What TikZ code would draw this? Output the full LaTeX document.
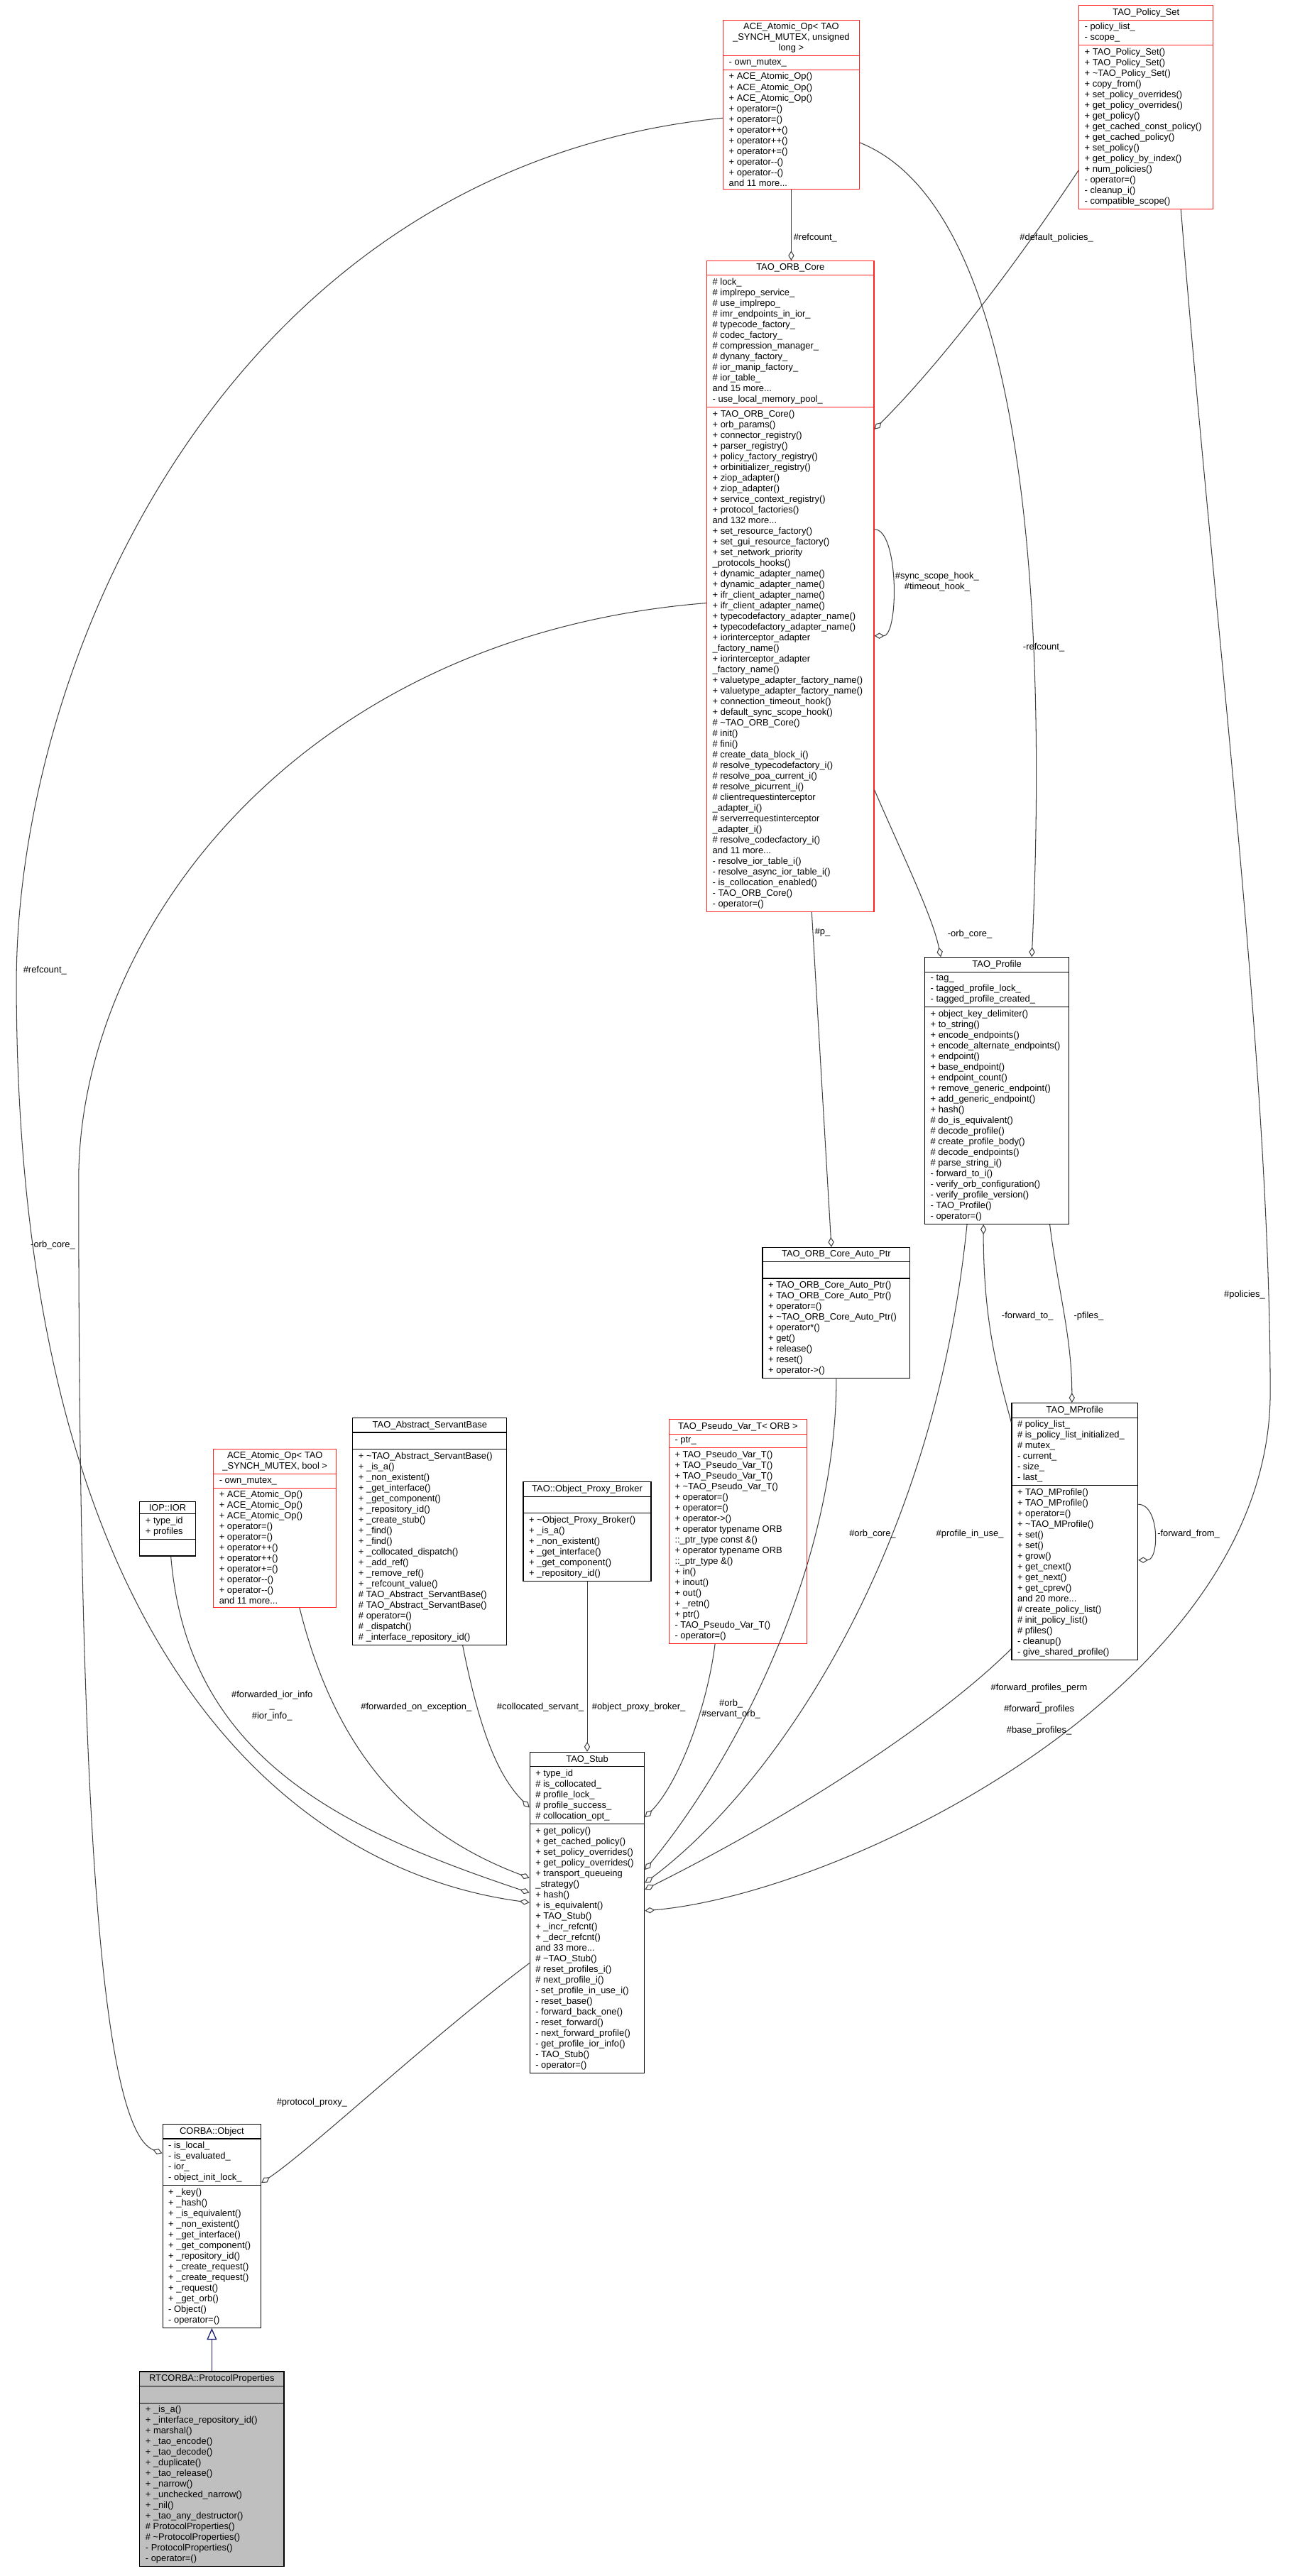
\documentclass[tikz,border=0pt]{standalone}
\usepackage{fontspec}
\setmainfont{Liberation Sans}
\usetikzlibrary{shapes.multipart,arrows.meta}
\newcommand{\umlfont}{\fontsize{5.6}{6.5}\selectfont\spaceskip=1.55pt\relax}
\newcommand{\umlempty}{\rule{0pt}{6.5pt}}
\definecolor{edgec}{HTML}{404040}
\definecolor{boxred}{HTML}{FF2020}
\definecolor{inhc}{HTML}{191970}
\definecolor{rtgray}{HTML}{BFBFBF}
\tikzset{
 umlnode/.style={rectangle split,rectangle split parts=3,draw,line width=0.5pt,
   inner xsep=3.5pt,inner ysep=1.6pt,fill=white},
 redbox/.style={draw=boxred},
 blackbox/.style={draw=black},
 graybox/.style={draw=black,fill=rtgray},
 lbl/.style={font=\umlfont,inner sep=0pt,align=left},
 lblc/.style={font=\umlfont,inner sep=0pt,align=center},
 agg/.style={draw=edgec,line width=0.45pt,-{Diamond[open,length=6pt,width=3.6pt]}},
 aggs/.style={draw=edgec,line width=0.45pt,{Diamond[open,length=6pt,width=3.6pt]}-},
 inh/.style={draw=inhc,line width=0.55pt,-{Triangle[open,length=7pt,width=6pt]}}
}
\newcommand{\umlbox}[8]{%
 \pgfmathsetmacro\umltw{#4-7}%
 \node[umlnode,#5,text width=\umltw pt,anchor=north west] (#1) at (#2pt,-#3pt)
 {\umlfont\centering #6\par\nodepart{two}\umlfont\raggedright #7\par\nodepart{three}\umlfont\raggedright #8\par};}
\begin{document}
\begin{tikzpicture}
\fill[white] (0,0) rectangle (790pt,-1572pt);
\useasboundingbox (0,0) rectangle (790pt,-1572pt);

\umlbox{aceul}{441}{12}{83}{redbox}{ACE\_Atomic\_Op< TAO\\\_SYNCH\_MUTEX, unsigned\\long >}{- own\_mutex\_}{+ ACE\_Atomic\_Op()\\+ ACE\_Atomic\_Op()\\+ ACE\_Atomic\_Op()\\+ operator=()\\+ operator=()\\+ operator++()\\+ operator++()\\+ operator+=()\\+ operator-{}-()\\+ operator-{}-()\\and 11 more...}

\umlbox{policyset}{658}{3}{82}{redbox}{TAO\_Policy\_Set}{- policy\_list\_\\- scope\_}{+ TAO\_Policy\_Set()\\+ TAO\_Policy\_Set()\\+ \textasciitilde TAO\_Policy\_Set()\\+ copy\_from()\\+ set\_policy\_overrides()\\+ get\_policy\_overrides()\\+ get\_policy()\\+ get\_cached\_const\_policy()\\+ get\_cached\_policy()\\+ set\_policy()\\+ get\_policy\_by\_index()\\+ num\_policies()\\- operator=()\\- cleanup\_i()\\- compatible\_scope()}

\umlbox{orbcore}{431}{159}{102}{redbox}{TAO\_ORB\_Core}{\# lock\_\\\# implrepo\_service\_\\\# use\_implrepo\_\\\# imr\_endpoints\_in\_ior\_\\\# typecode\_factory\_\\\# codec\_factory\_\\\# compression\_manager\_\\\# dynany\_factory\_\\\# ior\_manip\_factory\_\\\# ior\_table\_\\and 15 more...\\- use\_local\_memory\_pool\_}{+ TAO\_ORB\_Core()\\+ orb\_params()\\+ connector\_registry()\\+ parser\_registry()\\+ policy\_factory\_registry()\\+ orbinitializer\_registry()\\+ ziop\_adapter()\\+ ziop\_adapter()\\+ service\_context\_registry()\\+ protocol\_factories()\\and 132 more...\\+ set\_resource\_factory()\\+ set\_gui\_resource\_factory()\\+ set\_network\_priority\\\_protocols\_hooks()\\+ dynamic\_adapter\_name()\\+ dynamic\_adapter\_name()\\+ ifr\_client\_adapter\_name()\\+ ifr\_client\_adapter\_name()\\+ typecodefactory\_adapter\_name()\\+ typecodefactory\_adapter\_name()\\+ iorinterceptor\_adapter\\\_factory\_name()\\+ iorinterceptor\_adapter\\\_factory\_name()\\+ valuetype\_adapter\_factory\_name()\\+ valuetype\_adapter\_factory\_name()\\+ connection\_timeout\_hook()\\+ default\_sync\_scope\_hook()\\\# \textasciitilde TAO\_ORB\_Core()\\\# init()\\\# fini()\\\# create\_data\_block\_i()\\\# resolve\_typecodefactory\_i()\\\# resolve\_poa\_current\_i()\\\# resolve\_picurrent\_i()\\\# clientrequestinterceptor\\\_adapter\_i()\\\# serverrequestinterceptor\\\_adapter\_i()\\\# resolve\_codecfactory\_i()\\and 11 more...\\- resolve\_ior\_table\_i()\\- resolve\_async\_ior\_table\_i()\\- is\_collocation\_enabled()\\- TAO\_ORB\_Core()\\- operator=()}

\umlbox{profile}{564}{584}{88}{blackbox}{TAO\_Profile}{- tag\_\\- tagged\_profile\_lock\_\\- tagged\_profile\_created\_}{+ object\_key\_delimiter()\\+ to\_string()\\+ encode\_endpoints()\\+ encode\_alternate\_endpoints()\\+ endpoint()\\+ base\_endpoint()\\+ endpoint\_count()\\+ remove\_generic\_endpoint()\\+ add\_generic\_endpoint()\\+ hash()\\\# do\_is\_equivalent()\\\# decode\_profile()\\\# create\_profile\_body()\\\# decode\_endpoints()\\\# parse\_string\_i()\\- forward\_to\_i()\\- verify\_orb\_configuration()\\- verify\_profile\_version()\\- TAO\_Profile()\\- operator=()}

\umlbox{autoptr}{465}{761}{90}{blackbox}{TAO\_ORB\_Core\_Auto\_Ptr}{\umlempty}{+ TAO\_ORB\_Core\_Auto\_Ptr()\\+ TAO\_ORB\_Core\_Auto\_Ptr()\\+ operator=()\\+ \textasciitilde TAO\_ORB\_Core\_Auto\_Ptr()\\+ operator*()\\+ get()\\+ release()\\+ reset()\\+ operator->()}

\umlbox{mprofile}{617}{856}{77}{blackbox}{TAO\_MProfile}{\# policy\_list\_\\\# is\_policy\_list\_initialized\_\\\# mutex\_\\- current\_\\- size\_\\- last\_}{+ TAO\_MProfile()\\+ TAO\_MProfile()\\+ operator=()\\+ \textasciitilde TAO\_MProfile()\\+ set()\\+ set()\\+ grow()\\+ get\_cnext()\\+ get\_next()\\+ get\_cprev()\\and 20 more...\\\# create\_policy\_list()\\\# init\_policy\_list()\\\# pfiles()\\- cleanup()\\- give\_shared\_profile()}

\umlbox{pseudovar}{408}{866}{84}{redbox}{TAO\_Pseudo\_Var\_T< ORB >}{- ptr\_}{+ TAO\_Pseudo\_Var\_T()\\+ TAO\_Pseudo\_Var\_T()\\+ TAO\_Pseudo\_Var\_T()\\+ \textasciitilde TAO\_Pseudo\_Var\_T()\\+ operator=()\\+ operator=()\\+ operator->()\\+ operator typename ORB\\::\_ptr\_type const \&()\\+ operator typename ORB\\::\_ptr\_type \&()\\+ in()\\+ inout()\\+ out()\\+ \_retn()\\+ ptr()\\- TAO\_Pseudo\_Var\_T()\\- operator=()}

\umlbox{proxy}{319}{904}{78}{blackbox}{TAO::Object\_Proxy\_Broker}{\umlempty}{+ \textasciitilde Object\_Proxy\_Broker()\\+ \_is\_a()\\+ \_non\_existent()\\+ \_get\_interface()\\+ \_get\_component()\\+ \_repository\_id()}

\umlbox{servant}{215}{865}{94}{blackbox}{TAO\_Abstract\_ServantBase}{\umlempty}{+ \textasciitilde TAO\_Abstract\_ServantBase()\\+ \_is\_a()\\+ \_non\_existent()\\+ \_get\_interface()\\+ \_get\_component()\\+ \_repository\_id()\\+ \_create\_stub()\\+ \_find()\\+ \_find()\\+ \_collocated\_dispatch()\\+ \_add\_ref()\\+ \_remove\_ref()\\+ \_refcount\_value()\\\# TAO\_Abstract\_ServantBase()\\\# TAO\_Abstract\_ServantBase()\\\# operator=()\\\# \_dispatch()\\\# \_interface\_repository\_id()}

\umlbox{acebool}{130}{884}{75}{redbox}{ACE\_Atomic\_Op< TAO\\\_SYNCH\_MUTEX, bool >}{- own\_mutex\_}{+ ACE\_Atomic\_Op()\\+ ACE\_Atomic\_Op()\\+ ACE\_Atomic\_Op()\\+ operator=()\\+ operator=()\\+ operator++()\\+ operator++()\\+ operator+=()\\+ operator-{}-()\\+ operator-{}-()\\and 11 more...}

\umlbox{ior}{85}{916}{34}{blackbox}{IOP::IOR}{+ type\_id\\+ profiles}{\umlempty}

\umlbox{stub}{323}{1069}{70}{blackbox}{TAO\_Stub}{+ type\_id\\\# is\_collocated\_\\\# profile\_lock\_\\\# profile\_success\_\\\# collocation\_opt\_}{+ get\_policy()\\+ get\_cached\_policy()\\+ set\_policy\_overrides()\\+ get\_policy\_overrides()\\+ transport\_queueing\\\_strategy()\\+ hash()\\+ is\_equivalent()\\+ TAO\_Stub()\\+ \_incr\_refcnt()\\+ \_decr\_refcnt()\\and 33 more...\\\# \textasciitilde TAO\_Stub()\\\# reset\_profiles\_i()\\\# next\_profile\_i()\\- set\_profile\_in\_use\_i()\\- reset\_base()\\- forward\_back\_one()\\- reset\_forward()\\- next\_forward\_profile()\\- get\_profile\_ior\_info()\\- TAO\_Stub()\\- operator=()}

\umlbox{corbaobj}{99}{1296}{60}{blackbox}{CORBA::Object}{- is\_local\_\\- is\_evaluated\_\\- ior\_\\- object\_init\_lock\_}{+ \_key()\\+ \_hash()\\+ \_is\_equivalent()\\+ \_non\_existent()\\+ \_get\_interface()\\+ \_get\_component()\\+ \_repository\_id()\\+ \_create\_request()\\+ \_create\_request()\\+ \_request()\\+ \_get\_orb()\\- Object()\\- operator=()}

\umlbox{rtcorba}{85}{1447}{88}{graybox}{RTCORBA::ProtocolProperties}{\umlempty}{+ \_is\_a()\\+ \_interface\_repository\_id()\\+ marshal()\\+ \_tao\_encode()\\+ \_tao\_decode()\\+ \_duplicate()\\+ \_tao\_release()\\+ \_narrow()\\+ \_unchecked\_narrow()\\+ \_nil()\\+ \_tao\_any\_destructor()\\\# ProtocolProperties()\\\# \textasciitilde ProtocolProperties()\\- ProtocolProperties()\\- operator=()}

\coordinate (lo1) at (48pt,-720pt);
\coordinate (lo2) at (10pt,-600pt);
\coordinate (lo3) at (775pt,-850pt);

% edges
\draw[agg] (aceul.south) -- (aceul.south |- orbcore.north);
\draw[agg] ([yshift=-101pt]policyset.north west) .. controls +(-40pt,-60pt) and +(40pt,40pt) .. ([yshift=-103pt]orbcore.north east);
\draw[agg] ([yshift=-75pt]aceul.north east) .. controls +(100pt,-40pt) and +(10pt,220pt) .. ([xshift=-23pt]profile.north east);
\draw[agg] ([yshift=-164pt]orbcore.north east) .. controls +(15pt,0pt) and +(15pt,0pt) .. ([yshift=-229pt]orbcore.north east);
\draw[agg] ([yshift=-323pt]orbcore.north east) .. controls +(15pt,-35pt) and +(-5pt,25pt) .. ([xshift=10pt]profile.north west);
\draw[agg] ([yshift=-209pt]orbcore.north west) .. controls +(-250pt,-20pt) and +(0pt,150pt) .. (lo1) .. controls +(0pt,-350pt) and +(-40pt,15pt) .. ([yshift=-18pt]corbaobj.north west);
\draw[agg] ([yshift=-60pt]aceul.north west) .. controls +(-300pt,-30pt) and +(0pt,200pt) .. (lo2) .. controls +(0pt,-400pt) and +(-150pt,20pt) .. ([yshift=-92pt]stub.north west);
\draw[agg] ([xshift=-20pt]policyset.south east) .. controls +(20pt,-250pt) and +(0pt,200pt) .. (lo3) .. controls +(0pt,-180pt) and +(120pt,10pt) .. ([yshift=-97pt]stub.north east);
\draw[agg] ([xshift=13pt]orbcore.south) -- ([xshift=-3pt]autoptr.north);
\draw[agg] (autoptr.south) .. controls +(0pt,-120pt) and +(50pt,60pt) .. ([yshift=-72pt]stub.north east);
\draw[agg] ([xshift=26pt]profile.south west) .. controls +(-20pt,-200pt) and +(80pt,60pt) .. ([yshift=-80pt]stub.north east);
\draw[aggs] ([xshift=36pt]profile.south west) .. controls +(0pt,-60pt) and +(-8pt,30pt) .. ([yshift=-12pt]mprofile.north west);
\draw[agg] ([xshift=-12pt]profile.south east) .. controls +(5pt,-40pt) and +(0pt,40pt) .. ([xshift=37pt]mprofile.north west);
\draw[agg] ([yshift=-62pt]mprofile.north east) .. controls +(13pt,0pt) and +(13pt,0pt) .. ([yshift=-96pt]mprofile.north east);
\draw[agg] ([yshift=7pt]mprofile.south west) .. controls +(-40pt,-40pt) and +(100pt,50pt) .. ([yshift=-84pt]stub.north east);
\draw[agg] ([xshift=-14pt]pseudovar.south) .. controls +(-5pt,-40pt) and +(20pt,20pt) .. ([yshift=-40pt]stub.north east);
\draw[agg] (proxy.south) -- (proxy.south |- stub.north);
\draw[agg] ([xshift=20pt]servant.south) .. controls +(10pt,-50pt) and +(-20pt,20pt) .. ([yshift=-34pt]stub.north west);
\draw[agg] ([xshift=15pt]acebool.south) .. controls +(20pt,-80pt) and +(-80pt,30pt) .. ([yshift=-77pt]stub.north west);
\draw[agg] ([xshift=2pt]ior.south) .. controls +(10pt,-120pt) and +(-120pt,40pt) .. ([yshift=-86pt]stub.north west);
\draw[agg] ([yshift=-129pt]stub.north west) .. controls +(-60pt,-45pt) and +(30pt,20pt) .. ([yshift=-36pt]corbaobj.north east);
\draw[inh] (rtcorba.north) -- (rtcorba.north |- corbaobj.south);

% labels
\node[lbl,anchor=west] (l1) at (484pt,-145pt) {\#refcount\_};
\node[lbl,anchor=west] (l2) at (622pt,-145pt) {\#default\_policies\_};
\node[lbl,anchor=west] (l3) at (624pt,-395pt) {-refcount\_};
\node[lblc,anchor=west] (l4) at (546pt,-355pt) {\#sync\_scope\_hook\_\\\#timeout\_hook\_};
\node[lbl,anchor=west] (l5) at (578pt,-570pt) {-orb\_core\_};
\node[lbl,anchor=east] (l6) at (46pt,-760pt) {-orb\_core\_};
\node[lbl,anchor=west] (l7) at (14pt,-592pt) {\#refcount\_};
\node[lbl,anchor=east] (l8) at (772pt,-790pt) {\#policies\_};
\node[lbl,anchor=west] (l9) at (497pt,-569pt) {\#p\_};
\node[lbl,anchor=west] (l10) at (611pt,-803pt) {-forward\_to\_};
\node[lbl,anchor=west] (l11) at (655pt,-803pt) {-pfiles\_};
\node[lbl,anchor=west] (l12) at (518pt,-936pt) {\#orb\_core\_};
\node[lbl,anchor=west] (l13) at (571pt,-936pt) {\#profile\_in\_use\_};
\node[lbl,anchor=west] (l14) at (706pt,-936pt) {-forward\_from\_};
\node[lblc] (l15) at (634pt,-1043pt) {\#forward\_profiles\_perm\\\_\\\#forward\_profiles\\\_\\\#base\_profiles\_};
\node[lblc] (l16) at (446pt,-1043pt) {\#orb\_\\\#servant\_orb\_};
\node[lbl,anchor=west] (l17) at (361pt,-1042pt) {\#object\_proxy\_broker\_};
\node[lbl,anchor=west] (l18) at (303pt,-1042pt) {\#collocated\_servant\_};
\node[lbl,anchor=west] (l19) at (220pt,-1042pt) {\#forwarded\_on\_exception\_};
\node[lblc] (l20) at (166pt,-1041pt) {\#forwarded\_ior\_info\\\_\\\#ior\_info\_};
\node[lbl,anchor=east] (l21) at (212pt,-1283pt) {\#protocol\_proxy\_};
\end{tikzpicture}
\end{document}
